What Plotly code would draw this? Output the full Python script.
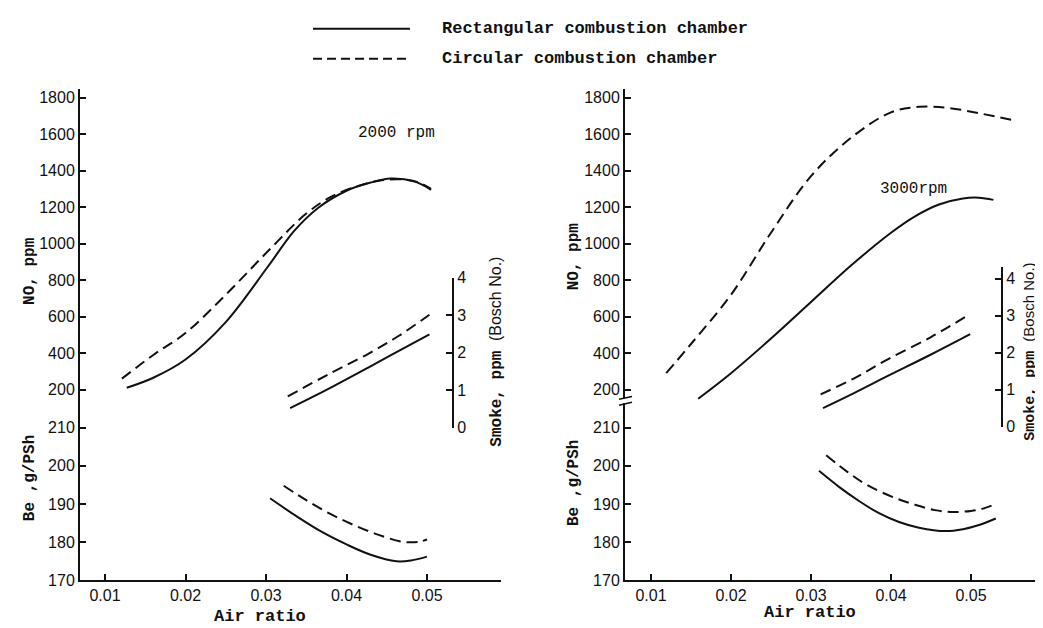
import plotly.graph_objects as go

W, H = 1043, 628

# ---------------- data ----------------
# 2000 rpm panel
no2000_rect_x = [0.0127, 0.016, 0.020, 0.025, 0.0302, 0.0335, 0.0365, 0.040, 0.043, 0.0455, 0.0485, 0.0505]
no2000_rect_y = [210, 265, 365, 570, 872, 1070, 1197, 1290, 1335, 1357, 1340, 1295]
no2000_circ_x = [0.0121, 0.016, 0.020, 0.025, 0.0302, 0.035, 0.038, 0.041, 0.044, 0.047, 0.049, 0.0505]
no2000_circ_y = [260, 390, 510, 720, 957, 1165, 1255, 1310, 1345, 1352, 1335, 1300]

smoke2000_rect_x = [0.033, 0.038, 0.0427, 0.0465, 0.0503]
smoke2000_rect_y = [0.52, 1.06, 1.60, 2.05, 2.49]
smoke2000_circ_x = [0.0327, 0.038, 0.0427, 0.0465, 0.0503]
smoke2000_circ_y = [0.83, 1.45, 1.97, 2.45, 3.01]

be2000_rect_x = [0.0305, 0.034, 0.037, 0.040, 0.043, 0.0462, 0.048, 0.050]
be2000_rect_y = [191.5, 186.5, 182.6, 179.4, 176.7, 175.0, 175.2, 176.2]
be2000_circ_x = [0.0322, 0.035, 0.038, 0.041, 0.044, 0.047, 0.049, 0.050]
be2000_circ_y = [194.8, 191.0, 187.4, 184.4, 181.9, 180.1, 180.1, 180.7]

# 3000 rpm panel
no3000_rect_x = [0.0159, 0.020, 0.025, 0.030, 0.035, 0.040, 0.043, 0.046, 0.049, 0.051, 0.0528]
no3000_rect_y = [150, 290, 480, 680, 880, 1060, 1150, 1215, 1248, 1252, 1240]
no3000_circ_x = [0.0119, 0.015, 0.020, 0.025, 0.030, 0.035, 0.040, 0.0435, 0.047, 0.051, 0.0555]
no3000_circ_y = [290, 450, 720, 1060, 1370, 1580, 1720, 1750, 1745, 1715, 1675]

smoke3000_rect_x = [0.0315, 0.0355, 0.0396, 0.045, 0.0499]
smoke3000_rect_y = [0.50, 0.92, 1.37, 1.95, 2.50]
smoke3000_circ_x = [0.0312, 0.0355, 0.0396, 0.045, 0.0499]
smoke3000_circ_y = [0.87, 1.32, 1.82, 2.42, 3.05]

be3000_rect_x = [0.031, 0.0335, 0.036, 0.0385, 0.041, 0.0435, 0.0468, 0.049, 0.051, 0.0531]
be3000_rect_y = [198.7, 194.5, 190.8, 187.6, 185.3, 183.8, 182.9, 183.4, 184.5, 186.2]
be3000_circ_x = [0.0319, 0.0345, 0.037, 0.0405, 0.043, 0.0455, 0.0478, 0.050, 0.0515, 0.0531]
be3000_circ_y = [202.8, 198.5, 195.0, 191.6, 189.8, 188.4, 187.9, 188.2, 188.8, 190.0]

x_ticks = [0.01, 0.02, 0.03, 0.04, 0.05]
x_ticklabels = ["0.01", "0.02", "0.03", "0.04", "0.05"]
no_ticks = [200, 400, 600, 800, 1000, 1200, 1400, 1600, 1800]
be_ticks = [170, 180, 190, 200, 210]
smoke_ticks = [0, 1, 2, 3, 4]

legend_names = ["Rectangular combustion chamber", "Circular combustion chamber"]
panel_labels = ["2000 rpm", "3000rpm"]

# ---------------- helpers ----------------
def fx(p):
    return p / W


def fy(p):
    return 1 - p / H


MONO = "Liberation Mono"
SANS = "Liberation Sans"
BLACK = "#111"
DASH = "11px,6px"

fig = go.Figure()


def add_line(x, y, xa, ya, dashed):
    fig.add_trace(go.Scatter(
        x=x, y=y, xaxis=xa, yaxis=ya, mode="lines",
        line=dict(color=BLACK, width=2, dash=DASH if dashed else "solid",
                  shape="spline", smoothing=1.0),
        showlegend=False, hoverinfo="skip"))


# left panel: x / y (Be) / y2 (NO) / y3 (smoke)
add_line(no2000_rect_x, no2000_rect_y, "x", "y2", False)
add_line(no2000_circ_x, no2000_circ_y, "x", "y2", True)
add_line(smoke2000_rect_x, smoke2000_rect_y, "x", "y3", False)
add_line(smoke2000_circ_x, smoke2000_circ_y, "x", "y3", True)
add_line(be2000_rect_x, be2000_rect_y, "x", "y", False)
add_line(be2000_circ_x, be2000_circ_y, "x", "y", True)
# right panel: x2 / y4 (Be) / y5 (NO) / y6 (smoke)
add_line(no3000_rect_x, no3000_rect_y, "x2", "y5", False)
add_line(no3000_circ_x, no3000_circ_y, "x2", "y5", True)
add_line(smoke3000_rect_x, smoke3000_rect_y, "x2", "y6", False)
add_line(smoke3000_circ_x, smoke3000_circ_y, "x2", "y6", True)
add_line(be3000_rect_x, be3000_rect_y, "x2", "y4", False)
add_line(be3000_circ_x, be3000_circ_y, "x2", "y4", True)

tickfont = dict(family=SANS, size=16, color=BLACK)
common = dict(showline=True, linecolor=BLACK, linewidth=2, ticks="inside",
              ticklen=6, tickwidth=1.5, tickcolor=BLACK, showgrid=False,
              zeroline=False, tickfont=tickfont, fixedrange=True)

# pixel geometry
x_axis_px = 580
brk_px = 403
top_px = 75
be_dom = [fy(x_axis_px), fy(brk_px)]
no_dom = [fy(brk_px), fy(top_px)]
be_range = [170, 170 + (x_axis_px - brk_px) / 3.92]
no_range = [200 - (brk_px - 384) / 0.1875, 200 + (384 - top_px) / 0.1875]

fig.update_layout(
    width=W, height=H, margin=dict(l=0, r=0, t=0, b=0),
    paper_bgcolor="white", plot_bgcolor="rgba(0,0,0,0)",
    xaxis=dict(domain=[fx(72), fx(493)], range=[0.006894, 0.05919], anchor="y",
               tickvals=x_ticks, ticktext=x_ticklabels, **common),
    yaxis=dict(domain=be_dom, range=be_range, anchor="x", tickvals=be_ticks, **common),
    yaxis2=dict(domain=no_dom, range=no_range, anchor="x", tickvals=no_ticks, **common),
    yaxis3=dict(domain=[fy(423), fy(269)], range=[0, 4], anchor="free",
                position=fx(445), side="right", tickvals=smoke_ticks, **common),
    xaxis2=dict(domain=[fx(617), fx(1037)], range=[0.00675, 0.05925], anchor="y4",
                tickvals=x_ticks, ticktext=x_ticklabels, **common),
    yaxis4=dict(domain=be_dom, range=be_range, anchor="x2", tickvals=be_ticks, **common),
    yaxis5=dict(domain=no_dom, range=no_range, anchor="x2", tickvals=no_ticks, **common),
    yaxis6=dict(domain=[fy(422), fy(258)], range=[0, 4 + 12 / 38], anchor="free",
                position=fx(994), side="right", tickvals=smoke_ticks, **common),
)

ann = []


def label(text, x, y, size=17, angle=0, family=MONO, bold=True):
    ann.append(dict(text=("<b>%s</b>" % text) if bold else text, x=fx(x), y=fy(y),
                    xref="paper", yref="paper", showarrow=False, textangle=angle,
                    font=dict(family=family, size=size, color=BLACK),
                    xanchor="center", yanchor="middle"))


# axis titles
label("Air ratio", 252, 617)
label("Air ratio", 802, 613)
label("NO, ppm", 22, 262, angle=-90, size=16)
label("NO, ppm", 566, 247, angle=-90, size=16)
label("Be ,g/PSh", 22, 475, angle=-90, size=16)
label("Be ,g/PSh", 566, 480, angle=-90, size=16)
smoke_txt = ("Smoke, ppm <span style='font-family:Liberation Sans;font-weight:normal'>"
             "(Bosch No.)</span>")
label(smoke_txt, 489, 345, angle=-90, size=16)
label(smoke_txt, 1022, 345, angle=-90, size=15)
# panel labels
label(panel_labels[0], 388, 120, size=16, bold=False)
label(panel_labels[1], 905, 178, size=16, bold=False)

# legend text
for i, name in enumerate(legend_names):
    ann.append(dict(text="<b>%s</b>" % name, x=fx(432), y=fy(13 + 31 * i),
                    xref="paper", yref="paper", showarrow=False,
                    font=dict(family=MONO, size=17, color=BLACK),
                    xanchor="left", yanchor="middle"))
fig.update_layout(annotations=ann)

# legend samples and axis break mark
shapes = [
    dict(type="line", xref="paper", yref="paper", x0=fx(305), x1=fx(402), y0=fy(13), y1=fy(13),
         line=dict(color=BLACK, width=2)),
    dict(type="line", xref="paper", yref="paper", x0=fx(305), x1=fx(402), y0=fy(44), y1=fy(44),
         line=dict(color=BLACK, width=2, dash="9px,5px")),
    dict(type="rect", xref="paper", yref="paper", x0=fx(614), x1=fx(621), y0=fy(398), y1=fy(393),
         line=dict(width=0), fillcolor="white"),
    dict(type="line", xref="paper", yref="paper", x0=fx(611), x1=fx(624), y0=fy(394), y1=fy(391),
         line=dict(color=BLACK, width=1.5)),
    dict(type="line", xref="paper", yref="paper", x0=fx(611), x1=fx(624), y0=fy(400), y1=fy(397),
         line=dict(color=BLACK, width=1.5)),
]
fig.update_layout(shapes=shapes)

fig.write_html("out.html")
